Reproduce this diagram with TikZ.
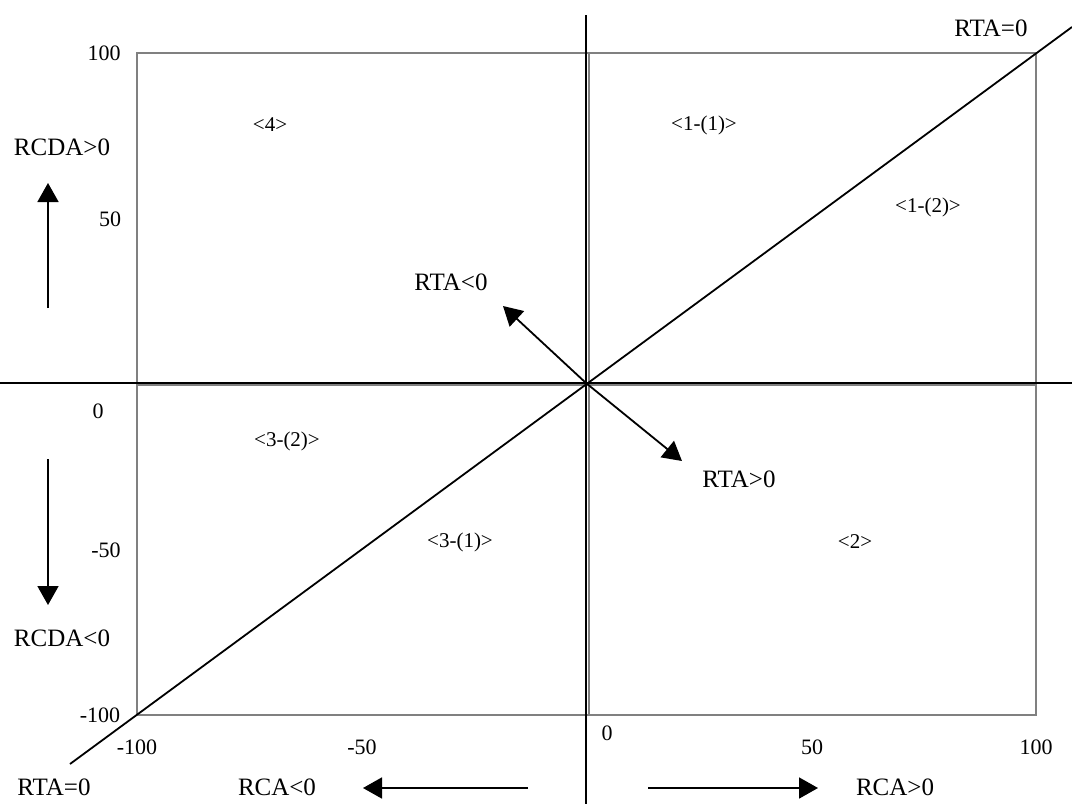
\documentclass[tikz,border=0pt]{standalone}
\usepackage{fontspec}
\setmainfont{Liberation Serif}
\usetikzlibrary{arrows.meta, positioning}

\begin{document}
\begin{tikzpicture}[
    x=1pt, y=-1pt,
    >={Triangle[length=19pt, width=21pt]},
    frame/.style={draw=gray, line width=1.8pt},
    axis/.style={draw=black, line width=1.8pt},
    arrow/.style={->, line width=1.8pt},
    num/.style={inner sep=0pt, font=\fontsize{22}{26}\selectfont},
    region/.style={inner sep=0pt, font=\fontsize{21}{25}\selectfont},
    sign/.style={inner sep=0pt, font=\fontsize{25}{30}\selectfont}
]
\useasboundingbox (0,0) rectangle (1072,804);

% Frame and quadrants
\coordinate (sw) at (137,715);
\coordinate (ne) at (1036,53);
\draw[frame] (sw) rectangle (ne);
\draw[frame] (589,53) -- (589,715);
\draw[frame] (137,385) -- (1036,385);

% Axes
\coordinate (o) at (586,383);
\coordinate (xw) at (0,383);
\coordinate (xe) at (1072,383);
\coordinate (yn) at (586,15);
\coordinate (ys) at (586,804);
\draw[axis] (xw) -- (xe);
\draw[axis] (yn) -- (ys);

% RTA=0 line
\coordinate (dlo) at (70,764);
\coordinate (dhi) at (1072,27);
\draw[axis] (dlo) -- (dhi);

% Vertical scale
\node[num] (v100) at (104,53) {100};
\node[num] (v50) at (110,219) {50};
\node[num] (v0) at (98,411) {0};
\node[num] (vm50) at (106,550) {-50};
\node[num] (vm100) at (100,715) {-100};

% Horizontal scale
\node[num] (hm100) at (137,747) {-100};
\node[num] (hm50) at (362,747) {-50};
\node[num] (h0) at (607,733) {0};
\node[num] (h50) at (812,747) {50};
\node[num] (h100) at (1036,747) {100};

% Regions
\node[region] (r4) at (270,125) {<4>};
\node[region] (r11) at (704,125) {<1-(1)>};
\node[region] (r12) at (928,207) {<1-(2)>};
\node[region] (r32) at (287,441) {<3-(2)>};
\node[region] (r31) at (460,542) {<3-(1)>};
\node[region] (r2) at (855,542) {<2>};

% Signs
\node[sign] (rcdapos) at (62,147) {RCDA>0};
\node[sign] (rcdaneg) at (62,638) {RCDA<0};
\node[sign] (rtazlo) at (54,787) {RTA=0};
\node[sign] (rtazhi) at (991,28) {RTA=0};
\node[sign] (rcaneg) at (277,787) {RCA<0};
\node[sign] (rcapos) at (895,787) {RCA>0};
\node[sign] (rtaneg) at (451,282) {RTA<0};
\node[sign] (rtapos) at (739,479) {RTA>0};

% Direction arrows
\coordinate (upS) at (48,308);
\coordinate (upE) at (48,183);
\coordinate (dnS) at (48,459);
\coordinate (dnE) at (48,605);
\coordinate (ltS) at (528,788);
\coordinate (ltE) at (363,788);
\coordinate (rtS) at (648,788);
\coordinate (rtE) at (818,788);
\coordinate (nwE) at (503,306);
\coordinate (seE) at (682,461);
\draw[arrow] (upS) -- (upE);
\draw[arrow] (dnS) -- (dnE);
\draw[arrow] (ltS) -- (ltE);
\draw[arrow] (rtS) -- (rtE);
\draw[arrow] (o) -- (nwE);
\draw[arrow] (o) -- (seE);

\end{tikzpicture}
\end{document}
